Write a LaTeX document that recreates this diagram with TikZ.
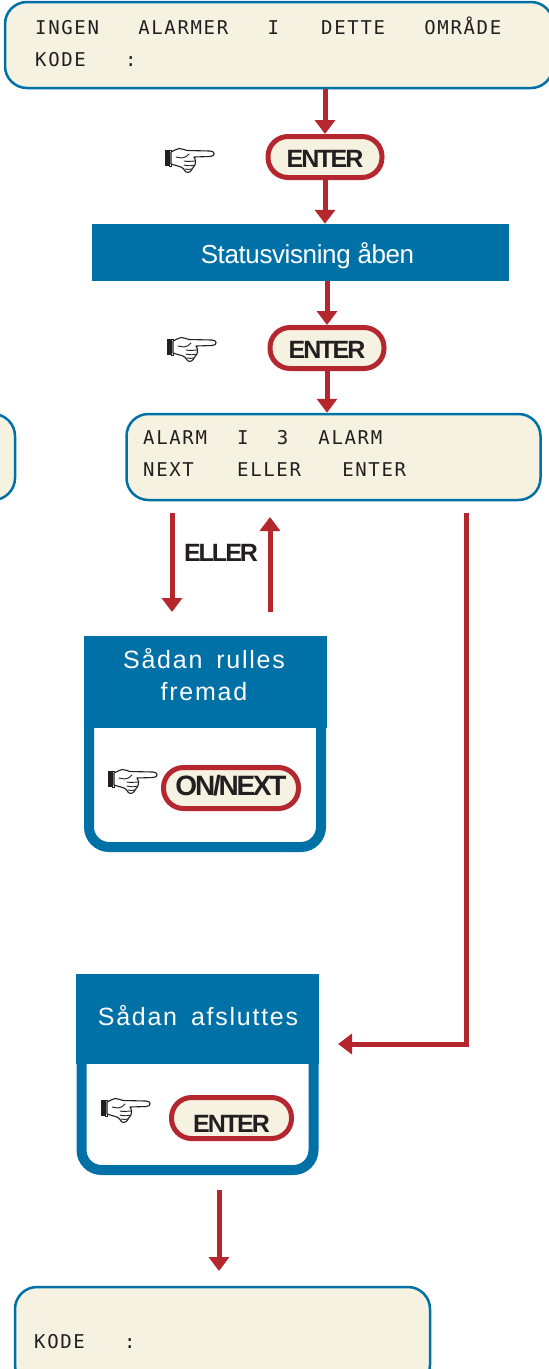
\documentclass[tikz,border=0pt]{standalone}
\usepackage{fontspec}
\usepackage{xcolor}
\usetikzlibrary{arrows.meta}
\setmainfont{Liberation Sans}
\newfontfamily\lcdfont[LetterSpace=8.7]{DejaVu Sans Mono}
\newfontfamily\keyfont[LetterSpace=-8]{Liberation Sans Bold}
\newfontfamily\headfont[LetterSpace=7,WordSpace=1.6]{Liberation Sans}
\newfontfamily\barfont[LetterSpace=-1.5]{Liberation Sans}
\definecolor{panelblue}{HTML}{0071A6}
\definecolor{arrowred}{HTML}{B5272E}
\definecolor{lcdcream}{HTML}{F6F2E2}
\definecolor{inkblack}{HTML}{231F20}
\tikzset{
	lcdbox/.style={draw=panelblue,fill=lcdcream,line width=2.5pt,rounded corners=22pt,minimum width=#1},
	lcdtext/.style={anchor=west,align=left,inner sep=0pt,text=inkblack,font=\fontsize{19}{32}\selectfont\lcdfont},
	keypill/.style={draw=arrowred,fill=lcdcream,line width=5pt,rounded corners=20pt,minimum width=#1,minimum height=41pt,inner sep=0pt,text=inkblack,font=\fontsize{25}{25}\selectfont\keyfont},
	headbar/.style={fill=panelblue,minimum width=243pt,minimum height=#1,inner sep=0pt},
	headtext/.style={align=center,inner sep=0pt,text=white,font=\fontsize{25}{32}\selectfont\headfont},
	panelframe/.style={draw=panelblue,fill=white,line width=10pt,rounded corners=20pt,minimum width=232pt},
	redarrow/.style={draw,color=arrowred,line width=5pt,-{Triangle[width=20pt,length=14pt]}},
	handicon/.pic={
		\fill[inkblack] (-23,-10) rectangle (-18.5,6);
		\draw[inkblack,line width=.6pt] (-18.5,-10) rectangle (-17,6);
		\draw[inkblack,fill=white,line width=1.1pt,line join=round] (-17,-8) .. controls (-14,-9) and (-12,-11) .. (-9,-11.5) .. controls (-6,-11.5) and (-3,-10) .. (-1,-9.5) -- (22,-9) .. controls (27.5,-9) and (27.5,-3.5) .. (22,-3.5) -- (6,-3) .. controls (8,-1) and (8,2) .. (7,5) .. controls (6,7) and (4,8) .. (3.5,10) .. controls (2,13) and (-2,13) .. (-3,11) .. controls (-4,9) and (-5,8) .. (-7,7) .. controls (-10,6) and (-14,5) .. (-17,4) -- cycle;
		\draw[inkblack,line width=.9pt,line cap=round] (-12,-3) -- (-6,-2) .. controls (-3,-2) and (-1,-4) .. (1,-6);
		\draw[inkblack,line width=.9pt,line cap=round] (-4,1) .. controls (0,2) and (4,1) .. (7,1);
		\draw[inkblack,line width=.9pt,line cap=round] (-4,5) .. controls (0,6) and (4,6) .. (6,5);
		\draw[inkblack,line width=.9pt,line cap=round] (-3,9) .. controls (-1,10) and (2,9) .. (4,9);
	},
}
\begin{document}
\begin{tikzpicture}[x=1pt,y=-1pt]
		\useasboundingbox (0,0) rectangle (549,1369);
		%
		\node[lcdbox=548pt,minimum height=86pt] (topbox) at (279,45) {};
		\node[lcdtext] (toptext) at (35,42) {INGEN~~~ALARMER~~~I~~~\hspace{3pt}DETTE~~~OMRÅDE\\KODE~~~:};
		\node[keypill=114pt,text height=20pt,text depth=0pt] (enterA) at (325,157) {ENTER};
		\pic at (188,160) {handicon};
		\node[fill=panelblue,minimum width=417pt,minimum height=57pt,inner sep=0pt,text=white,text height=22pt,text depth=0pt,font=\fontsize{26}{26}\selectfont\barfont] (statusbar) at (300.5,252.5) {\hspace*{14pt}Statusvisning åben};
		\node[keypill=114pt,text height=20pt,text depth=0pt] (enterB) at (327,348) {ENTER};
		\pic at (190,349) {handicon};
		\node[lcdbox=414pt,minimum height=86pt] (alarmbox) at (333.5,457) {};
		\node[lcdtext] (alarmtext) at (143,453) {ALARM~~\hspace{4pt}I~~\hspace{2pt}3~~\hspace{4pt}ALARM\\NEXT~~~\hspace{4pt}ELLER~~~\hspace{2pt}ENTER};
		\node[lcdbox=140pt,minimum height=86pt] (leftbox) at (-55,457) {};
		%
		\coordinate (downtop) at (172,513);
		\coordinate (downend) at (172,612);
		\coordinate (uptop) at (270,517);
		\coordinate (upstart) at (270,612);
		\node[inner sep=0pt,text=inkblack,font=\fontsize{25}{25}\selectfont\keyfont] (ellertext) at (221,553) {ELLER};
		%
		\node[panelframe,minimum height=147pt] (panelA) at (205,773.5) {};
		\node[headbar=92pt] (headA) at (205.5,682) {};
		\node[headtext] (titleA) at (204,675) {Sådan rulles\\fremad};
		\pic at (131,781) {handicon};
		\node[keypill=135pt,text height=20pt,text depth=6pt,font=\fontsize{28}{28}\selectfont\keyfont] (nextkey) at (231,788) {ON/NEXT};
		%
		\node[panelframe,minimum height=130pt] (panelB) at (197.5,1105) {};
		\node[headbar=90pt] (headB) at (197.5,1019) {};
		\node[headtext] (titleB) at (198,1016) {Sådan afsluttes};
		\pic at (124,1110) {handicon};
		\node[keypill=120pt,text height=28pt,text depth=0pt] (enterC) at (231.5,1118) {ENTER};
		%
		\coordinate (longstart) at (466,513);
		\coordinate (longturn) at (466,1044);
		\coordinate (longend) at (338,1044);
		\coordinate (exitstart) at (219,1190);
		\coordinate (exitend) at (219,1271);
		%
		\node[lcdbox=415pt,minimum height=100pt] (endbox) at (222.5,1337) {};
		\node[lcdtext] (endtext) at (34,1342) {KODE~~~:};
		%
		\path
		(enterA.north |- topbox.south) edge[redarrow] (enterA.north)
		(enterA.south) edge[redarrow] (enterA.south |- statusbar.north)
		(enterB.north |- statusbar.south) edge[redarrow] (enterB.north)
		(enterB.south) edge[redarrow] (enterB.south |- alarmbox.north)
		(downtop) edge[redarrow] (downend)
		(upstart) edge[redarrow] (uptop)
		(exitstart) edge[redarrow] (exitend);
		\draw[redarrow] (longstart) -- (longturn) -- (longend);
		\end{tikzpicture}
\end{document}
